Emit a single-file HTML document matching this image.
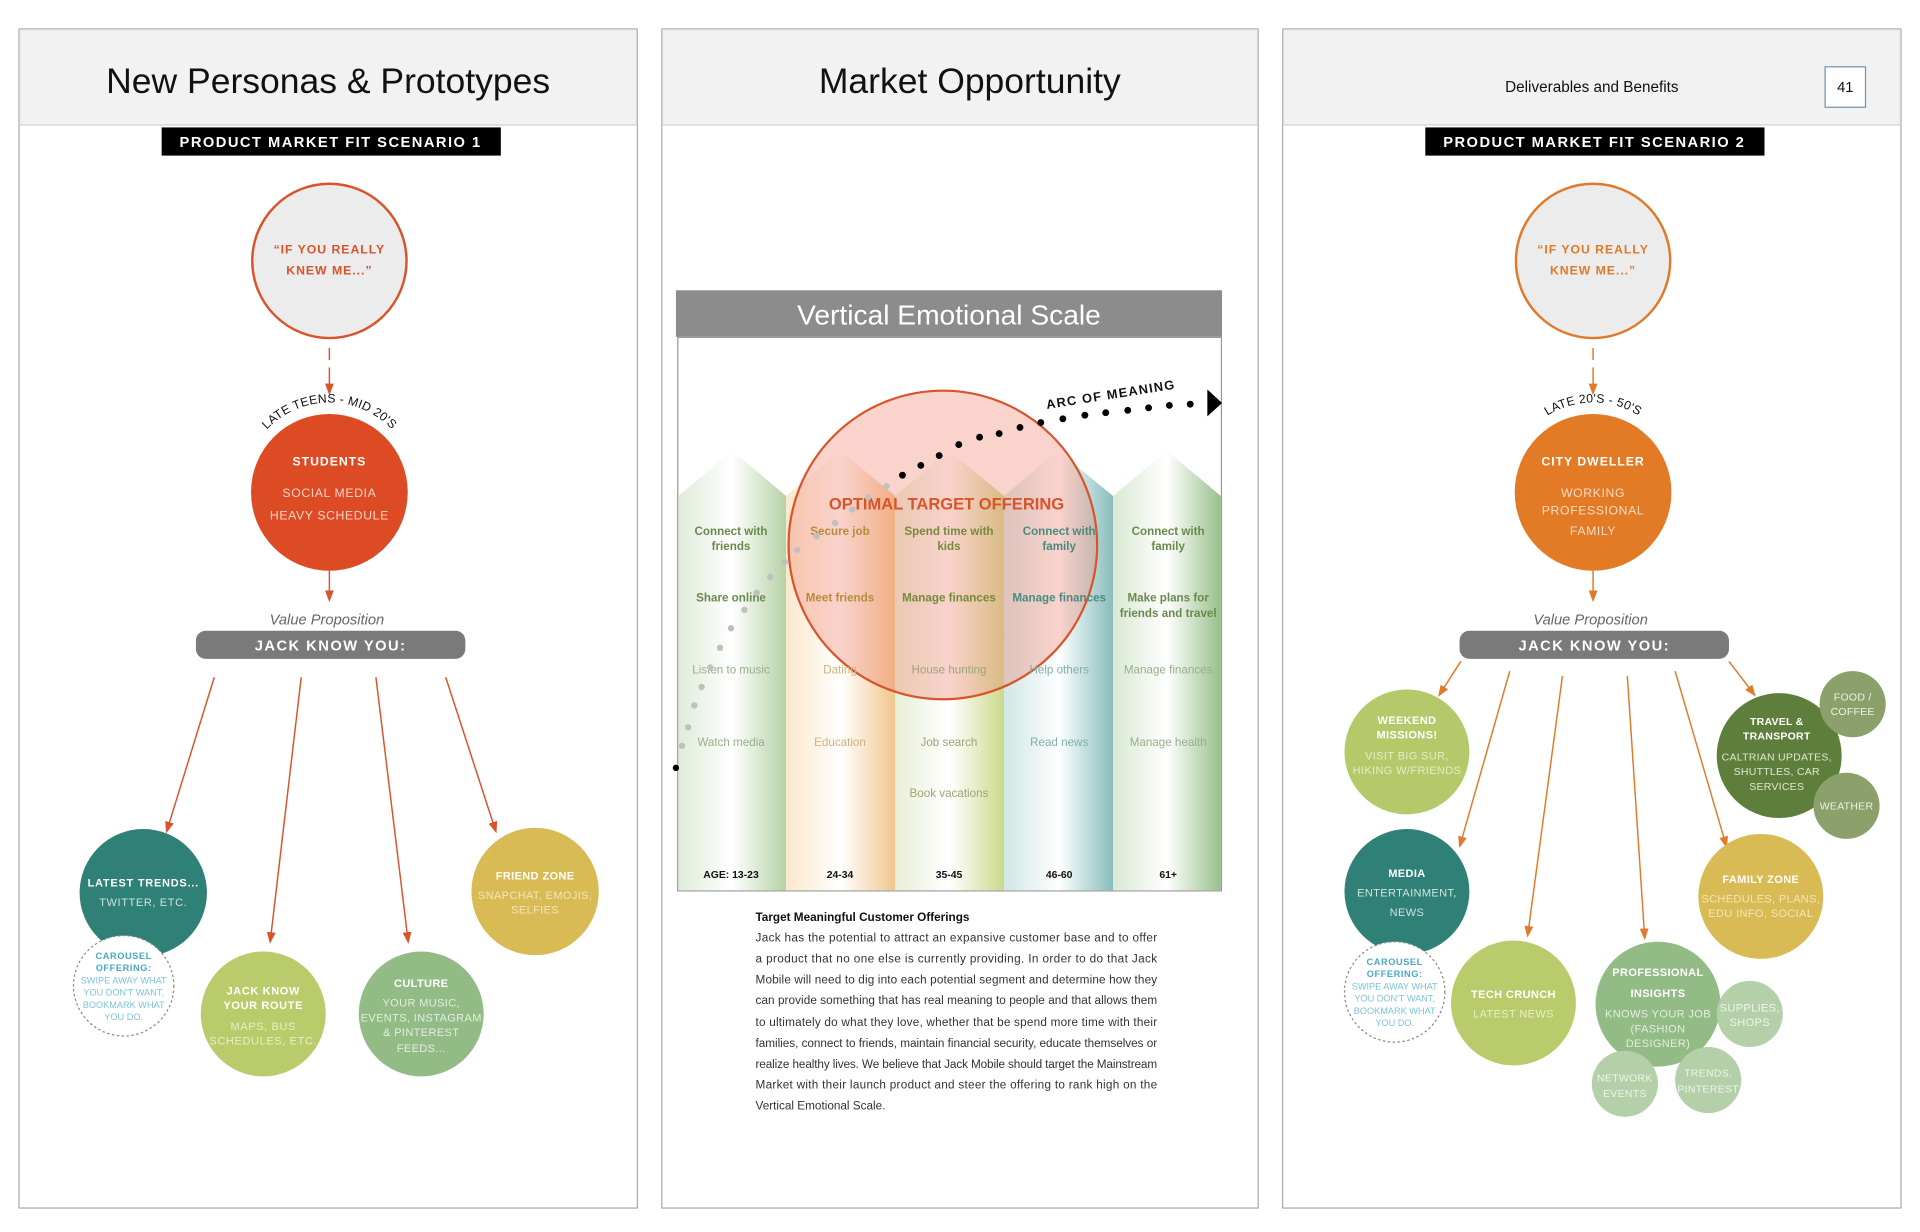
<!DOCTYPE html>
<html><head><meta charset="utf-8"><style>
html,body{margin:0;padding:0;background:#fff;width:1920px;height:1232px;overflow:hidden}
svg{display:block}
text{font-family:"Liberation Sans",Arial,sans-serif}
.b{font-weight:bold}
</style></head><body>
<svg width="1920" height="1232" viewBox="0 0 1568 1006" xmlns="http://www.w3.org/2000/svg">
<defs>
<linearGradient id="g1" x1="0" x2="1"><stop offset="0" stop-color="#dfecd9"/><stop offset="0.5" stop-color="#fff"/><stop offset="1" stop-color="#b5d2a6"/></linearGradient>
<linearGradient id="g2" x1="0" x2="1"><stop offset="0" stop-color="#fbe8cc"/><stop offset="0.5" stop-color="#fff"/><stop offset="1" stop-color="#f1c68c"/></linearGradient>
<linearGradient id="g3" x1="0" x2="1"><stop offset="0" stop-color="#e8efd6"/><stop offset="0.5" stop-color="#fff"/><stop offset="1" stop-color="#cbd98a"/></linearGradient>
<linearGradient id="g4" x1="0" x2="1"><stop offset="0" stop-color="#d0e6e5"/><stop offset="0.5" stop-color="#fff"/><stop offset="1" stop-color="#88bdbd"/></linearGradient>
<linearGradient id="g5" x1="0" x2="1"><stop offset="0" stop-color="#d9e9d3"/><stop offset="0.5" stop-color="#fff"/><stop offset="1" stop-color="#98c08b"/></linearGradient>
<marker id="ar" markerWidth="8" markerHeight="8" refX="4" refY="4" orient="auto"><path d="M0,1 L8,4 L0,7 Z" fill="#d9532b"/></marker>
<marker id="ao" markerWidth="8" markerHeight="8" refX="4" refY="4" orient="auto"><path d="M0,1 L8,4 L0,7 Z" fill="#e07a2a"/></marker>
<path id="arc1" d="M 212,358 A 70 70 0 0 1 326,358"/>
<path id="arc2" d="M 1244,358 A 70 70 0 0 1 1358,358"/>
</defs>

<g stroke="#aaa" stroke-width="1">
<rect x="15.5" y="23.5" width="505" height="963" fill="#fff"/>
<rect x="540.5" y="23.5" width="487" height="963" fill="#fff"/>
<rect x="1047.5" y="23.5" width="505" height="963" fill="#fff"/>
</g>
<g fill="#f2f2f2" stroke="#d0d0d0">
<rect x="16" y="24" width="504" height="78"/>
<rect x="541" y="24" width="486" height="78"/>
<rect x="1048" y="24" width="504" height="78"/>
</g>
<text x="268" y="76" font-size="29" text-anchor="middle" fill="#111">New Personas &amp; Prototypes</text>
<text x="792" y="76" font-size="29" text-anchor="middle" fill="#111">Market Opportunity</text>
<text x="1300" y="75" font-size="12.5" text-anchor="middle" fill="#111">Deliverables and Benefits</text>
<rect x="1490.5" y="54.5" width="33" height="33" fill="#fff" stroke="#6d95b5"/>
<text x="1507" y="75" font-size="12" text-anchor="middle" fill="#111">41</text>

<!-- Panel 1 -->
<rect x="132" y="104" width="277" height="23" fill="#000"/>
<text x="270" y="120" font-size="12" class="b" fill="#fff" text-anchor="middle" letter-spacing="1.2">PRODUCT MARKET FIT SCENARIO 1</text>
<circle cx="269" cy="213" r="63" fill="#ececec" stroke="#d9532b" stroke-width="2"/>
<text x="269" y="207" font-size="10" class="b" fill="#d9532b" text-anchor="middle" letter-spacing="0.8">“IF YOU REALLY</text>
<text x="269" y="224" font-size="10" class="b" fill="#d9532b" text-anchor="middle" letter-spacing="0.8">KNEW ME...”</text>
<line x1="269" y1="284" x2="269" y2="294" stroke="#d9532b" stroke-width="1.2"/>
<line x1="269" y1="300" x2="269" y2="318" stroke="#d9532b" stroke-width="1.2" marker-end="url(#ar)"/>
<text font-size="10" fill="#111" letter-spacing="0.2"><textPath href="#arc1" startOffset="50%" text-anchor="middle">LATE TEENS  - MID 20'S</textPath></text>
<circle cx="269" cy="402" r="64" fill="#dd4b25"/>
<text x="269" y="380" font-size="10" class="b" fill="#fff" text-anchor="middle" letter-spacing="0.8">STUDENTS</text>
<text x="269" y="406" font-size="10" fill="#f6d5c8" text-anchor="middle" letter-spacing="0.5">SOCIAL MEDIA</text>
<text x="269" y="424" font-size="10" fill="#f6d5c8" text-anchor="middle" letter-spacing="0.5">HEAVY SCHEDULE</text>
<line x1="269" y1="466" x2="269" y2="487" stroke="#d9532b" stroke-width="1.2" marker-end="url(#ar)"/>
<text x="267" y="510" font-size="12" font-style="italic" fill="#666" text-anchor="middle">Value Proposition</text>
<rect x="160" y="515" width="220" height="23" rx="8" fill="#7a7a7a"/>
<text x="270" y="531" font-size="12" class="b" fill="#fff" text-anchor="middle" letter-spacing="1.2">JACK KNOW YOU:</text>
<g stroke="#d9532b" stroke-width="1.2">
<line x1="175" y1="553" x2="137" y2="676" marker-end="url(#ar)"/>
<line x1="246" y1="553" x2="221" y2="766" marker-end="url(#ar)"/>
<line x1="307" y1="553" x2="333" y2="766" marker-end="url(#ar)"/>
<line x1="364" y1="553" x2="404" y2="676" marker-end="url(#ar)"/>
</g>
<circle cx="117" cy="729" r="52" fill="#2f8077"/>
<text x="117" y="724" font-size="9" class="b" fill="#fff" text-anchor="middle" letter-spacing="0.6">LATEST TRENDS...</text>
<text x="117" y="740" font-size="9" fill="#cfe3df" text-anchor="middle" letter-spacing="0.5">TWITTER, ETC.</text>
<circle cx="101" cy="805" r="41" fill="#fff" stroke="#888" stroke-dasharray="2,2"/>
<g font-size="7.5" text-anchor="middle" fill="#46a9c6">
<text x="101" y="783" class="b" letter-spacing="0.5">CAROUSEL</text>
<text x="101" y="793" class="b" letter-spacing="0.5">OFFERING:</text>
<text x="101" y="803" fill="#7cc4d8">SWIPE AWAY WHAT</text>
<text x="101" y="813" fill="#7cc4d8">YOU DON'T WANT,</text>
<text x="101" y="823" fill="#7cc4d8">BOOKMARK WHAT</text>
<text x="101" y="833" fill="#7cc4d8">YOU DO.</text>
</g>
<circle cx="215" cy="828" r="51" fill="#b9cb6b"/>
<g font-size="9" text-anchor="middle" letter-spacing="0.5">
<text x="215" y="812" class="b" fill="#fff">JACK KNOW</text>
<text x="215" y="824" class="b" fill="#fff">YOUR ROUTE</text>
<text x="215" y="841" fill="#e8efc9">MAPS, BUS</text>
<text x="215" y="853" fill="#e8efc9">SCHEDULES, ETC.</text>
</g>
<circle cx="344" cy="828" r="51" fill="#93bb86"/>
<g font-size="9" text-anchor="middle" letter-spacing="0.3">
<text x="344" y="806" class="b" fill="#fff">CULTURE</text>
<text x="344" y="822" fill="#e3eede">YOUR MUSIC,</text>
<text x="344" y="834" fill="#e3eede">EVENTS, INSTAGRAM</text>
<text x="344" y="846" fill="#e3eede">&amp; PINTEREST</text>
<text x="344" y="859" fill="#e3eede">FEEDS...</text>
</g>
<circle cx="437" cy="728" r="52" fill="#d9bb55"/>
<g font-size="9" text-anchor="middle" letter-spacing="0.3">
<text x="437" y="718" class="b" fill="#fff">FRIEND ZONE</text>
<text x="437" y="734" fill="#f3e6b6">SNAPCHAT, EMOJIS,</text>
<text x="437" y="746" fill="#f3e6b6">SELFIES</text>
</g>

<!-- Panel 2 -->
<rect x="552" y="237" width="446" height="38" fill="#8c8c8c"/>
<text x="775" y="265" font-size="23" fill="#fff" text-anchor="middle">Vertical Emotional Scale</text>
<rect x="553.5" y="275.5" width="444" height="452" fill="#fff" stroke="#999"/>
<polygon points="554,405 598,368 642,405 642,727 554,727" fill="url(#g1)"/>
<polygon points="642,405 686,368 731,405 731,727 642,727" fill="url(#g2)"/>
<polygon points="731,405 775,368 820,405 820,727 731,727" fill="url(#g3)"/>
<polygon points="820,405 864,368 909,405 909,727 820,727" fill="url(#g4)"/>
<polygon points="909,405 953,368 997,405 997,727 909,727" fill="url(#g5)"/>
<circle cx="770" cy="445" r="126" fill="rgba(238,140,120,0.38)" stroke="#d9532b" stroke-width="1.8"/>
<text x="773" y="416" font-size="13.5" class="b" fill="#d9532b" text-anchor="middle">OPTIMAL TARGET OFFERING</text>
<g font-size="9.5" text-anchor="middle">
<g class="b" fill="#6a8a4d">
<text x="597" y="437">Connect with</text><text x="597" y="449">friends</text>
<text x="686" y="437" fill="#b88a3a">Secure job</text>
<text x="775" y="437" fill="#758a3a">Spend time with</text><text x="775" y="449" fill="#758a3a">kids</text>
<text x="865" y="437" fill="#4b8a82">Connect with</text><text x="865" y="449" fill="#4b8a82">family</text>
<text x="954" y="437">Connect with</text><text x="954" y="449">family</text>
<text x="597" y="491">Share online</text>
<text x="686" y="491" fill="#b88a3a">Meet friends</text>
<text x="775" y="491" fill="#758a3a">Manage finances</text>
<text x="865" y="491" fill="#4b8a82">Manage finances</text>
<text x="954" y="491">Make plans for</text><text x="954" y="504">friends and travel</text>
</g>
<g fill="#9aae8c">
<text x="597" y="550">Listen to music</text>
<text x="686" y="550" fill="#d0b37a">Dating</text>
<text x="775" y="550" fill="#9da47a">House hunting</text>
<text x="865" y="550" fill="#7fb0ab">Help others</text>
<text x="954" y="550">Manage finances</text>
<text x="597" y="609">Watch media</text>
<text x="686" y="609" fill="#d0b37a">Education</text>
<text x="775" y="609" fill="#9da47a">Job search</text>
<text x="865" y="609" fill="#7fb0ab">Read news</text>
<text x="954" y="609">Manage health</text>
<text x="775" y="651" fill="#9da47a">Book vacations</text>
</g>
<g class="b" fill="#111" font-size="8.5">
<text x="597" y="717">AGE: 13-23</text><text x="686" y="717">24-34</text><text x="775" y="717">35-45</text><text x="865" y="717">46-60</text><text x="954" y="717">61+</text>
</g>
</g>
<g fill="#c0c0c0">
<circle cx="557" cy="609" r="2.6"/><circle cx="562" cy="594" r="2.6"/><circle cx="567" cy="576" r="2.6"/><circle cx="573" cy="561" r="2.6"/><circle cx="580" cy="545" r="2.6"/><circle cx="588" cy="529" r="2.6"/><circle cx="597" cy="513" r="2.6"/><circle cx="608" cy="498" r="2.6"/><circle cx="618" cy="484" r="2.6"/><circle cx="629" cy="471" r="2.6"/><circle cx="641" cy="459" r="2.6"/><circle cx="651" cy="449" r="2.6"/><circle cx="667" cy="438" r="2.6"/><circle cx="682" cy="427" r="2.6"/><circle cx="696" cy="416" r="2.6"/><circle cx="709" cy="406" r="2.6"/><circle cx="724" cy="397" r="2.6"/>
</g>
<g fill="#000">
<circle cx="552" cy="627" r="2.6"/>
<circle cx="737" cy="388" r="2.8"/><circle cx="752" cy="380" r="2.8"/><circle cx="767" cy="372" r="2.8"/><circle cx="783" cy="363" r="2.8"/><circle cx="800" cy="357" r="2.8"/><circle cx="816" cy="354" r="2.8"/><circle cx="833" cy="349" r="2.8"/><circle cx="850" cy="345" r="2.8"/><circle cx="868" cy="342" r="2.8"/><circle cx="886" cy="339" r="2.8"/><circle cx="903" cy="337" r="2.8"/><circle cx="921" cy="335" r="2.8"/><circle cx="938" cy="333" r="2.8"/><circle cx="955" cy="331" r="2.8"/><circle cx="972" cy="330" r="2.8"/>
<polygon points="986,318 998,329 986,340"/>
</g>
<text x="855" y="334" font-size="10.5" class="b" fill="#111" letter-spacing="1" transform="rotate(-9 855 334)">ARC OF MEANING</text>
<g font-size="9.6" fill="#333">
<text x="617" y="752" class="b" fill="#111">Target Meaningful Customer Offerings</text>
<text x="617" y="769" textLength="328" lengthAdjust="spacing">Jack has the potential to attract an expansive customer base and to offer</text>
<text x="617" y="786" textLength="328" lengthAdjust="spacing">a product that no one else is currently providing. In order to do that Jack</text>
<text x="617" y="803" textLength="328" lengthAdjust="spacing">Mobile  will need to dig into each potential segment and determine how they</text>
<text x="617" y="820" textLength="328" lengthAdjust="spacing">can provide something that has real meaning to people and that allows them</text>
<text x="617" y="838" textLength="328" lengthAdjust="spacing">to ultimately do what they love, whether that be spend more time with their</text>
<text x="617" y="855" textLength="328" lengthAdjust="spacing">families, connect to friends, maintain financial security, educate themselves or</text>
<text x="617" y="872" textLength="328" lengthAdjust="spacing">realize healthy lives. We believe that Jack Mobile should target the Mainstream</text>
<text x="617" y="889" textLength="328" lengthAdjust="spacing">Market with their launch product and steer the offering to rank high on the</text>
<text x="617" y="906">Vertical Emotional Scale.</text>
</g>

<!-- Panel 3 -->
<rect x="1164" y="104" width="277" height="23" fill="#000"/>
<text x="1302" y="120" font-size="12" class="b" fill="#fff" text-anchor="middle" letter-spacing="1.2">PRODUCT MARKET FIT SCENARIO 2</text>
<circle cx="1301" cy="213" r="63" fill="#ececec" stroke="#e07a2a" stroke-width="2"/>
<text x="1301" y="207" font-size="10" class="b" fill="#e07a2a" text-anchor="middle" letter-spacing="0.8">“IF YOU REALLY</text>
<text x="1301" y="224" font-size="10" class="b" fill="#e07a2a" text-anchor="middle" letter-spacing="0.8">KNEW ME...”</text>
<line x1="1301" y1="284" x2="1301" y2="294" stroke="#e07a2a" stroke-width="1.2"/>
<line x1="1301" y1="300" x2="1301" y2="318" stroke="#e07a2a" stroke-width="1.2" marker-end="url(#ao)"/>
<text font-size="10" fill="#111" letter-spacing="0.2"><textPath href="#arc2" startOffset="50%" text-anchor="middle">LATE 20'S - 50'S</textPath></text>
<circle cx="1301" cy="402" r="64" fill="#e27a26"/>
<text x="1301" y="380" font-size="10" class="b" fill="#fff" text-anchor="middle" letter-spacing="0.8">CITY DWELLER</text>
<text x="1301" y="406" font-size="10" fill="#f9dcc2" text-anchor="middle" letter-spacing="0.5">WORKING</text>
<text x="1301" y="420" font-size="10" fill="#f9dcc2" text-anchor="middle" letter-spacing="0.5">PROFESSIONAL</text>
<text x="1301" y="437" font-size="10" fill="#f9dcc2" text-anchor="middle" letter-spacing="0.5">FAMILY</text>
<line x1="1301" y1="466" x2="1301" y2="487" stroke="#e07a2a" stroke-width="1.2" marker-end="url(#ao)"/>
<text x="1299" y="510" font-size="12" font-style="italic" fill="#666" text-anchor="middle">Value Proposition</text>
<rect x="1192" y="515" width="220" height="23" rx="8" fill="#7a7a7a"/>
<text x="1302" y="531" font-size="12" class="b" fill="#fff" text-anchor="middle" letter-spacing="1.2">JACK KNOW YOU:</text>
<g stroke="#e07a2a" stroke-width="1.2">
<line x1="1193" y1="540" x2="1177" y2="565" marker-end="url(#ao)"/>
<line x1="1233" y1="548" x2="1193" y2="688" marker-end="url(#ao)"/>
<line x1="1276" y1="552" x2="1248" y2="761" marker-end="url(#ao)"/>
<line x1="1329" y1="552" x2="1343" y2="763" marker-end="url(#ao)"/>
<line x1="1368" y1="548" x2="1409" y2="688" marker-end="url(#ao)"/>
<line x1="1412" y1="540" x2="1431" y2="565" marker-end="url(#ao)"/>
</g>
<circle cx="1149" cy="614" r="51" fill="#b5c96a"/>
<g font-size="9" text-anchor="middle" letter-spacing="0.3">
<text x="1149" y="591" class="b" fill="#fff">WEEKEND</text>
<text x="1149" y="603" class="b" fill="#fff">MISSIONS!</text>
<text x="1149" y="620" fill="#e5edc5">VISIT BIG SUR,</text>
<text x="1149" y="632" fill="#e5edc5">HIKING W/FRIENDS</text>
</g>
<circle cx="1149" cy="728" r="51" fill="#2f8077"/>
<g font-size="9" text-anchor="middle" letter-spacing="0.3">
<text x="1149" y="716" class="b" fill="#fff">MEDIA</text>
<text x="1149" y="732" fill="#cfe3df">ENTERTAINMENT,</text>
<text x="1149" y="748" fill="#cfe3df">NEWS</text>
</g>
<circle cx="1139" cy="810" r="41" fill="#fff" stroke="#888" stroke-dasharray="2,2"/>
<g font-size="7.5" text-anchor="middle" fill="#46a9c6">
<text x="1139" y="788" class="b" letter-spacing="0.5">CAROUSEL</text>
<text x="1139" y="798" class="b" letter-spacing="0.5">OFFERING:</text>
<text x="1139" y="808" fill="#7cc4d8">SWIPE AWAY WHAT</text>
<text x="1139" y="818" fill="#7cc4d8">YOU DON'T WANT,</text>
<text x="1139" y="828" fill="#7cc4d8">BOOKMARK WHAT</text>
<text x="1139" y="838" fill="#7cc4d8">YOU DO.</text>
</g>
<circle cx="1236" cy="819" r="51" fill="#b9cb6b"/>
<g font-size="9" text-anchor="middle" letter-spacing="0.3">
<text x="1236" y="815" class="b" fill="#fff">TECH CRUNCH</text>
<text x="1236" y="831" fill="#e8efc9">LATEST NEWS</text>
</g>
<circle cx="1354" cy="820" r="51" fill="#93bb86"/>
<circle cx="1429" cy="828" r="27" fill="#b4d0a9"/>
<circle cx="1327" cy="885" r="27" fill="#b4d0a9"/>
<circle cx="1395" cy="882" r="27" fill="#b4d0a9"/>
<g font-size="9" text-anchor="middle" letter-spacing="0.3">
<text x="1354" y="797" class="b" fill="#fff">PROFESSIONAL</text>
<text x="1354" y="814" class="b" fill="#fff">INSIGHTS</text>
<text x="1354" y="831" fill="#e3eede">KNOWS YOUR JOB</text>
<text x="1354" y="843" fill="#e3eede">(FASHION</text>
<text x="1354" y="855" fill="#e3eede">DESIGNER)</text>
<text x="1429" y="826" fill="#eef5ea">SUPPLIES,</text>
<text x="1429" y="838" fill="#eef5ea">SHOPS</text>
<text x="1327" y="883" fill="#eef5ea" font-size="8.5">NETWORK</text>
<text x="1327" y="896" fill="#eef5ea" font-size="8.5">EVENTS</text>
<text x="1395" y="879" fill="#eef5ea" font-size="8.5">TRENDS,</text>
<text x="1395" y="892" fill="#eef5ea" font-size="8.5">PINTEREST</text>
</g>
<circle cx="1453" cy="617" r="51" fill="#5e7e3c"/>
<circle cx="1513" cy="575" r="27" fill="#8ba06a"/>
<circle cx="1508" cy="658" r="27" fill="#8ba06a"/>
<g font-size="8.6" text-anchor="middle" letter-spacing="0.2">
<text x="1451" y="592" class="b" fill="#fff">TRAVEL &amp;</text>
<text x="1451" y="604" class="b" fill="#fff">TRANSPORT</text>
<text x="1451" y="621" fill="#dfe8d2">CALTRIAN UPDATES,</text>
<text x="1451" y="633" fill="#dfe8d2">SHUTTLES, CAR</text>
<text x="1451" y="645" fill="#dfe8d2">SERVICES</text>
<text x="1513" y="572" fill="#eef2e4">FOOD /</text>
<text x="1513" y="584" fill="#eef2e4">COFFEE</text>
<text x="1508" y="661" fill="#eef2e4">WEATHER</text>
</g>
<circle cx="1438" cy="732" r="51" fill="#d9bb55"/>
<g font-size="9" text-anchor="middle" letter-spacing="0.3">
<text x="1438" y="721" class="b" fill="#fff">FAMILY ZONE</text>
<text x="1438" y="737" fill="#f3e6b6">SCHEDULES, PLANS,</text>
<text x="1438" y="749" fill="#f3e6b6">EDU INFO, SOCIAL</text>
</g>
</svg>
</body></html>
